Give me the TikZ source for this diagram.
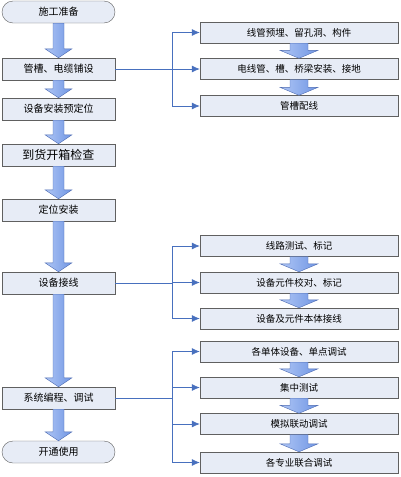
\documentclass[tikz,border=0pt]{standalone}
\usepackage{fontspec}
\setmainfont{Noto Sans CJK SC}
\usetikzlibrary{calc}
\usetikzlibrary{arrows.meta}

\definecolor{boxfill}{RGB}{231,236,246}
\definecolor{boxline}{RGB}{96,96,96}
\definecolor{linkblue}{RGB}{72,112,190}
\definecolor{arrowfill}{RGB}{112,150,228}
\definecolor{arrowlight}{RGB}{175,198,245}
\definecolor{arrowedge}{RGB}{78,108,178}

\begin{document}
\begin{tikzpicture}[x=1pt, y=-1pt,
                    stepnode/.style={rectangle, draw=boxline, fill=boxfill, minimum width=113pt, minimum height=22pt, inner sep=0pt, font=\fontsize{10}{12}\selectfont},
                    endnode/.style={stepnode, rounded corners=11pt},
                    subnode/.style={rectangle, draw=boxline, fill=boxfill, minimum width=198pt, minimum height=21pt, inner sep=0pt, font=\fontsize{9.5}{11}\selectfont},
                    blockarrow/.style n args={3}{draw=arrowedge, left color=arrowlight, right color=arrowfill,
                      to path={($(\tikztostart)+(-#1,0)$) -- ($(\tikztotarget)+(-#1,-#3)$) -- ($(\tikztotarget)+(-#2,-#3)$) -- (\tikztotarget)
                               -- ($(\tikztotarget)+(#2,-#3)$) -- ($(\tikztotarget)+(#1,-#3)$) -- ($(\tikztostart)+(#1,0)$) -- cycle}},
                    bigarrow/.style={blockarrow={5.5}{13.5}{9}},
                    smallarrow/.style={blockarrow={9}{19}{8}},
                    branch/.style={draw=linkblue, thick},
                    brancharrow/.style={branch, -{Latex[length=8pt, width=7pt]}},
                ]
                \useasboundingbox (0,0) rectangle (401,477);

                %Main steps
                \node[endnode]   (prep)    at (58.5,12)    {施工准备};
                \node[stepnode]  (lay)     at (58.5,69)    {管槽、电缆铺设};
                \node[stepnode]  (prepos)  at (58.5,109)   {设备安装预定位};
                \node[stepnode, font=\fontsize{12}{14}\selectfont]  (check)   at (58.5,155)   {到货开箱检查};
                \node[stepnode]  (locate)  at (58.5,210)   {定位安装};
                \node[stepnode]  (wire)    at (58.5,283)   {设备接线};
                \node[stepnode]  (prog)    at (58.5,398)   {系统编程、调试};
                \node[endnode]   (open)    at (58.5,452)   {开通使用};

                %Sub steps
                \node[subnode]   (pipe_1)  at (299,32.5)   {线管预埋、留孔洞、构件};
                \node[subnode]   (pipe_2)  at (299,69)     {电线管、槽、桥梁安装、接地};
                \node[subnode]   (pipe_3)  at (299,106)    {管槽配线};
                \node[subnode]   (wire_1)  at (299,246)    {线路测试、标记};
                \node[subnode]   (wire_2)  at (299,282.5)  {设备元件校对、标记};
                \node[subnode]   (wire_3)  at (299,318.5)  {设备及元件本体接线};
                \node[subnode]   (test_1)  at (299,351.5)  {各单体设备、单点调试};
                \node[subnode]   (test_2)  at (299,387.5)  {集中测试};
                \node[subnode]   (test_3)  at (299,424)    {模拟联动调试};
                \node[subnode]   (test_4)  at (299,462.5)  {各专业联合调试};

                %Forks
                \coordinate (fork_1) at (172,69);
                \coordinate (fork_2) at (172,283);
                \coordinate (fork_3) at (172,398);

                %Main arrows
                \path[bigarrow] (prep.south)   to (lay.north);
                \path[bigarrow] (lay.south)    to (prepos.north);
                \path[bigarrow] (prepos.south) to (check.north);
                \path[bigarrow] (check.south)  to (locate.north);
                \path[bigarrow] (locate.south) to (wire.north);
                \path[bigarrow] (wire.south)   to (prog.north);
                \path[bigarrow] (prog.south)   to (open.north);

                %Sub arrows
                \path[smallarrow] (pipe_1.south) to (pipe_2.north);
                \path[smallarrow] (pipe_2.south) to (pipe_3.north);
                \path[smallarrow] (wire_1.south) to (wire_2.north);
                \path[smallarrow] (wire_2.south) to (wire_3.north);
                \path[smallarrow] (test_1.south) to (test_2.north);
                \path[smallarrow] (test_2.south) to (test_3.north);
                \path[smallarrow] (test_3.south) to (test_4.north);

                %Branch lines
                \draw[branch] (lay.east) -- (fork_1);
                \draw[branch] (fork_1 |- pipe_1.west) -- (fork_1 |- pipe_3.west);
                \draw[brancharrow] (fork_1 |- pipe_1.west) -- (pipe_1.west);
                \draw[brancharrow] (fork_1 |- pipe_2.west) -- (pipe_2.west);
                \draw[brancharrow] (fork_1 |- pipe_3.west) -- (pipe_3.west);

                \draw[branch] (wire.east) -- (fork_2);
                \draw[branch] (fork_2 |- wire_1.west) -- (fork_2 |- wire_3.west);
                \draw[brancharrow] (fork_2 |- wire_1.west) -- (wire_1.west);
                \draw[brancharrow] (fork_2 |- wire_2.west) -- (wire_2.west);
                \draw[brancharrow] (fork_2 |- wire_3.west) -- (wire_3.west);

                \draw[branch] (prog.east) -- (fork_3);
                \draw[branch] (fork_3 |- test_1.west) -- (fork_3 |- test_4.west);
                \draw[brancharrow] (fork_3 |- test_1.west) -- (test_1.west);
                \draw[brancharrow] (fork_3 |- test_2.west) -- (test_2.west);
                \draw[brancharrow] (fork_3 |- test_3.west) -- (test_3.west);
                \draw[brancharrow] (fork_3 |- test_4.west) -- (test_4.west);
\end{tikzpicture}
\end{document}
